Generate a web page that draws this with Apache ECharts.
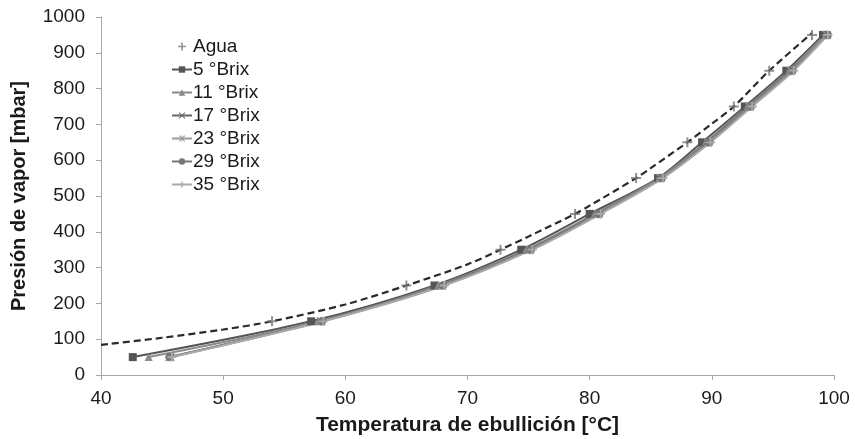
<!DOCTYPE html>
<html>
<head>
<meta charset="utf-8">
<script src="https://cdn.jsdelivr.net/npm/echarts@6/dist/echarts.min.js"></script>
<style>
  html, body { margin: 0; padding: 0; background: #fff; }
  #chart { width: 855px; height: 439px; }
</style>
</head>
<body>
<div id="chart"></div>
<script>
// punto de ebullición del agua [°C, mbar]
const agua = [[54.0, 150], [65.0, 250], [72.7, 350], [78.8, 450], [83.8, 550], [88.0, 650], [91.8, 750], [94.7, 850], [98.2, 950]];
// línea de tendencia (discontinua)
const aguaTrend = [[40, 84], [45, 104], [50, 127], [54, 150], [60, 197], [65, 250], [70, 309], [72.7, 350], [75, 387], [78.8, 450], [80, 473], [83.8, 550], [85, 578], [88, 650], [90, 702], [91.8, 750], [94.7, 850], [98.2, 955]];

const brix5  = [[42.6, 50], [57.2, 150], [67.3, 250], [74.4, 350], [80.0, 450], [85.6, 550], [89.2, 650], [92.7, 750], [96.1, 850], [99.1, 950]];
const brix11 = [[43.9, 50], [57.8, 150], [67.6, 250], [74.8, 350], [80.4, 450], [85.7, 550], [89.5, 650], [92.9, 750], [96.3, 850], [99.3, 950]];
const brix17 = [[45.7, 50], [58.0, 150], [67.8, 250], [75.0, 350], [80.6, 450], [85.8, 550], [89.6, 650], [93.0, 750], [96.4, 850], [99.4, 950]];
const brix23 = [[45.6, 50], [58.0, 150], [67.9, 250], [75.1, 350], [80.7, 450], [85.8, 550], [89.7, 650], [93.1, 750], [96.5, 850], [99.4, 950]];
const brix29 = [[45.6, 50], [58.1, 150], [68.0, 250], [75.2, 350], [80.8, 450], [85.9, 550], [89.8, 650], [93.2, 750], [96.6, 850], [99.5, 950]];
const brix35 = [[45.8, 50], [58.2, 150], [68.1, 250], [75.3, 350], [80.9, 450], [86.0, 550], [89.9, 650], [93.3, 750], [96.7, 850], [99.5, 950]];

const seriesNames = ['Agua', '5 °Brix', '11 °Brix', '17 °Brix', '23 °Brix', '29 °Brix', '35 °Brix'];

const PLUS = 'path://M4,0h2v10h-2zM0,4h10v2h-10z';
const CROSS = 'path://M1,0L5,4L9,0L10,1L6,5L10,9L9,10L5,6L1,10L0,9L4,5L0,1Z';
const STAR = 'path://M4.4,0h1.2v10h-1.2zM0,4.4h10v1.2h-10zM1,0L5,4L9,0L10,1L6,5L10,9L9,10L5,6L1,10L0,9L4,5L0,1Z';

function brixSeries(name, data, color, symbol, size) {
    return {
        name: name,
        type: 'line',
        data: data,
        smooth: 0.3,
        symbol: symbol,
        symbolSize: size,
        showAllSymbol: true,
        lineStyle: { color: color, width: 2 },
        itemStyle: { color: color },
        z: 3
    };
}

const chart = echarts.init(document.getElementById('chart'), null, { renderer: 'canvas' });

const FONT = 'Liberation Sans, Arial, sans-serif';
const axisText = { color: '#1a1a1a', fontSize: 19, fontFamily: FONT };

chart.setOption({
    animation: false,
    backgroundColor: '#fff',
    grid: { left: 101, right: 21, top: 17, bottom: 64, containLabel: false, outerBoundsMode: 'none' },
    legend: {
        orient: 'vertical',
        left: 166,
        top: 32,
        itemGap: 4,
        itemWidth: 20,
        itemHeight: 8,
        data: seriesNames,
        textStyle: { color: '#1a1a1a', fontSize: 19, fontFamily: FONT, padding: [0, 0, 0, -4] }
    },
    xAxis: {
        type: 'value',
        min: 40, max: 100, interval: 10,
        name: 'Temperatura de ebullición [°C]',
        nameLocation: 'middle',
        nameGap: 40,
        nameTextStyle: { color: '#1a1a1a', fontSize: 21, fontWeight: 'bold', fontFamily: FONT },
        axisLine: { lineStyle: { color: '#a8a8a8', width: 1 } },
        axisTick: { show: true, length: 5, lineStyle: { color: '#a8a8a8' } },
        axisLabel: Object.assign({ margin: 14 }, axisText),
        splitLine: { show: false }
    },
    yAxis: {
        type: 'value',
        min: 0, max: 1000, interval: 100,
        name: 'Presión de vapor [mbar]',
        nameLocation: 'middle',
        nameGap: 72,
        nameTextStyle: { color: '#1a1a1a', fontSize: 20, fontWeight: 'bold', fontFamily: FONT },
        axisLine: { show: true, lineStyle: { color: '#a8a8a8', width: 1 } },
        axisTick: { show: true, length: 5, lineStyle: { color: '#a8a8a8' } },
        axisLabel: Object.assign({ margin: 16, formatter: function (v) { return String(v); } }, axisText),
        splitLine: { show: false }
    },
    series: [
        {
            name: 'Agua trend',
            type: 'line',
            data: aguaTrend,
            smooth: 0.3,
            symbol: 'none',
            silent: true,
            lineStyle: { color: '#2a2a2a', width: 2.2, type: [7, 4] },
            z: 2
        },
        {
            name: 'Agua',
            type: 'scatter',
            data: agua,
            symbol: PLUS,
            symbolSize: 10,
            itemStyle: { color: '#777' },
            z: 4
        },
        brixSeries('5 °Brix', brix5, '#555', 'rect', 8),
        brixSeries('11 °Brix', brix11, '#8a8a8a', 'triangle', 8),
        brixSeries('17 °Brix', brix17, '#666', CROSS, 8),
        brixSeries('23 °Brix', brix23, '#9a9a9a', STAR, 9),
        brixSeries('29 °Brix', brix29, '#777', 'circle', 8),
        brixSeries('35 °Brix', brix35, '#aaa', PLUS, 9)
    ]
});
</script>
</body>
</html>
